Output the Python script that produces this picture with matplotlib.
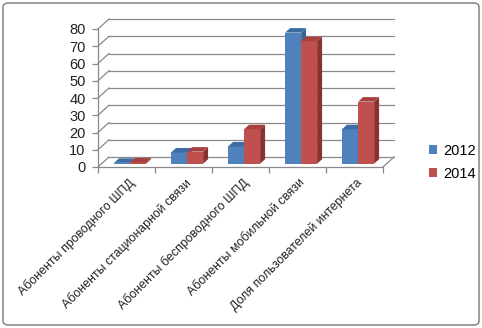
import matplotlib
matplotlib.use("Agg")
import matplotlib.pyplot as plt
from matplotlib.patches import Polygon, FancyBboxPatch, Patch
import numpy as np

plt.rcParams['font.family'] = ['Liberation Sans', 'DejaVu Sans']

categories = ["Абоненты проводного ШПД", "Абоненты стационарной связи",
              "Абоненты беспроводного ШПД", "Абоненты мобильной связи",
              "Доля пользователей интернета"]
series_names = ["2012", "2014"]
values_2012 = [0.5, 6.5, 10, 76, 20]
values_2014 = [0.7, 7, 20, 71, 36]
yticks = [0, 10, 20, 30, 40, 50, 60, 70, 80]

W, H = 482, 328
fig = plt.figure(figsize=(W / 100, H / 100), dpi=100)
ax_l, ax_r, ax_t, ax_b = 98, 383, 29, 167
ax = fig.add_axes([ax_l / W, 1 - ax_b / H, (ax_r - ax_l) / W, (ax_b - ax_t) / H])
n = len(categories)
ax.set_xlim(0, n)
ax.set_ylim(0, 80)

# 3D depth offsets (data units)
px_x = n / (ax_r - ax_l)
px_y = 80 / (ax_b - ax_t)
DX, DY = 11 * px_x, 10 * px_y
grid_c = "#898989"

# back wall gridlines + left wall diagonals
for v in yticks:
    ax.plot([DX, n + DX], [v + DY, v + DY], color=grid_c, lw=0.9, clip_on=False, zorder=1)
    ax.plot([0, DX], [v, v + DY], color=grid_c, lw=0.9, clip_on=False, zorder=1)
# floor right edge
ax.plot([n, n + DX], [0, DY], color=grid_c, lw=0.9, clip_on=False, zorder=1)

# bars
f, g = 0.33, 0.45
bw = 16 * px_x
colors = {
    "2012": ("#4F81BD", "#3A6494", "#3D6BA3"),
    "2014": ("#C0504D", "#8A302E", "#A8413E"),
}
handles = []
for i in range(n):
    cx = i + 0.5 + f * DX
    base = f * DY
    for j, (name, vals) in enumerate(zip(series_names, [values_2012, values_2014])):
        front, side, top = colors[name]
        x0 = cx - bw + j * bw
        x1 = x0 + bw
        y1 = base + vals[i]
        ox, oy = g * DX, g * DY
        ax.bar(x0, vals[i], width=bw, bottom=base, align='edge', color=front,
               clip_on=False, zorder=3 + i * 3 + j)
        ax.add_patch(Polygon([[x1, base], [x1 + ox, base + oy], [x1 + ox, y1 + oy], [x1, y1]],
                             closed=True, facecolor=side, edgecolor='none', clip_on=False,
                             zorder=3 + i * 3 + j))
        ax.add_patch(Polygon([[x0, y1], [x0 + ox, y1 + oy], [x1 + ox, y1 + oy], [x1, y1]],
                             closed=True, facecolor=top, edgecolor='none', clip_on=False,
                             zorder=3 + i * 3 + j))
        if i == 0:
            handles.append(Patch(facecolor=front, label=name))

# axes styling
for s in ['top', 'right']:
    ax.spines[s].set_visible(False)
for s in ['left', 'bottom']:
    ax.spines[s].set_color(grid_c)
    ax.spines[s].set_linewidth(0.9)
ax.set_yticks(yticks)
ax.set_yticklabels([str(v) for v in yticks], fontsize=10.5, color="#222222")
ax.set_xticks(np.arange(n + 1))
ax.set_xticklabels([])
ax.tick_params(axis='both', color=grid_c, length=4, width=0.9, direction='out')
ax.tick_params(axis='y', pad=5)

for i, c in enumerate(categories):
    ax.annotate(c, xy=(i + 0.5, 0), xycoords='data', xytext=(6, -14), textcoords='offset pixels',
                rotation=45, rotation_mode='anchor', ha='right', va='center',
                fontsize=8.9, color="#222222", annotation_clip=False)

fig.legend(handles=handles, loc='upper left', bbox_to_anchor=(429 / W, 1 - 144 / H),
           frameon=False, fontsize=10.5, handlelength=0.55, handleheight=0.55,
           handletextpad=0.4, labelspacing=0.6, borderpad=0, borderaxespad=0)

fig.add_artist(FancyBboxPatch((3 / W, 3 / H), (W - 6) / W, (H - 6) / H,
                              boxstyle="round,pad=0,rounding_size=0.012",
                              transform=fig.transFigure, facecolor='none',
                              edgecolor="#8c8c8c", lw=1.2))

fig.savefig("out.png", dpi=100)
